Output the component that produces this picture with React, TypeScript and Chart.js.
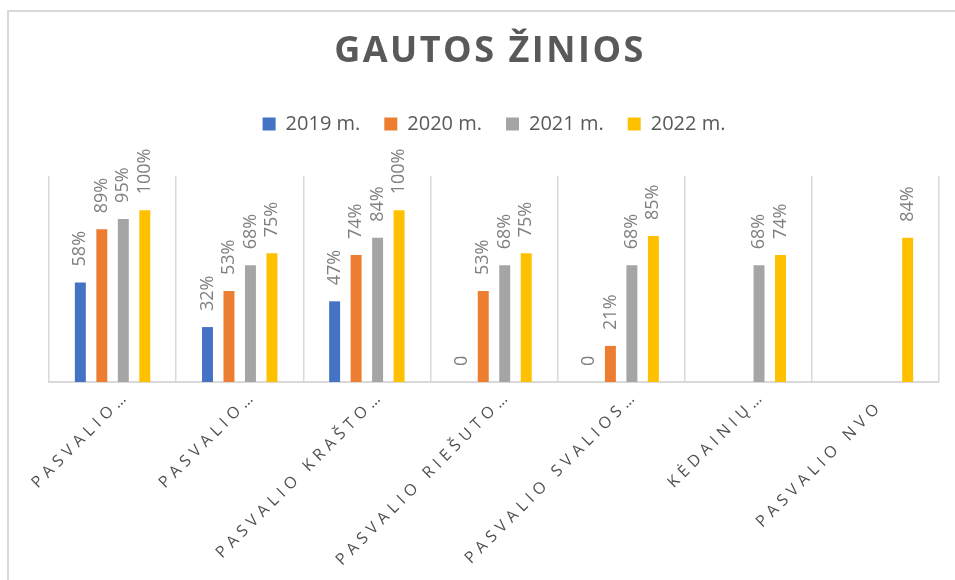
import React, { useEffect, useRef } from "react";
import { Chart, registerables, layouts } from "chart.js";

Chart.register(...registerables);

// ---- data ----
const TITLE = "GAUTOS ŽINIOS";
const categories = [
  "PASVALIO…",
  "PASVALIO…",
  "PASVALIO KRAŠTO…",
  "PASVALIO RIEŠUTO…",
  "PASVALIO SVALIOS…",
  "KĖDAINIŲ…",
  "PASVALIO NVO",
];
const seriesNames = ["2019 m.", "2020 m.", "2021 m.", "2022 m."];
const v2019 = [58, 32, 47, 0, 0, null, null];
const v2020 = [89, 53, 74, 53, 21, null, null];
const v2021 = [95, 68, 84, 68, 68, 68, null];
const v2022 = [100, 75, 100, 75, 85, 74, 84];
const seriesColors = ["#4472C4", "#ED7D31", "#A5A5A5", "#FFC000"];
const Y_MAX = 120;

const FONT = '"Open Sans", "DejaVu Sans", sans-serif';
const TEXT_DARK = "#595959";
const TEXT_LABEL = "#7f7f7f";
const GRID = "#d9d9d9";

function makeBox(height: number, weight: number, drawFn: (box: any, chart: any) => void, chart: any) {
  const box: any = {
    position: "top",
    weight,
    fullSize: true,
    options: {},
    left: 0,
    top: 0,
    right: 0,
    bottom: 0,
    width: 0,
    height: 0,
    isHorizontal: () => true,
    update(maxWidth: number) {
      box.width = maxWidth;
      box.height = height;
    },
    draw() {
      drawFn(box, chart);
    },
  };
  return box;
}

const boxesPlugin = {
  id: "customBoxes",
  beforeInit(chart: any) {
    const titleBox = makeBox(90, 2000, (box, ch) => {
      const ctx = ch.ctx;
      ctx.save();
      ctx.font = `bold 36px ${FONT}`;
      ctx.fillStyle = TEXT_DARK;
      (ctx as any).letterSpacing = "2.5px";
      ctx.textAlign = "center";
      ctx.textBaseline = "middle";
      ctx.fillText(TITLE, 490, box.top + 52);
      ctx.restore();
    }, chart);
    const spacer = makeBox(32, -10, () => {}, chart);
    layouts.addBox(chart, titleBox);
    layouts.addBox(chart, spacer);
  },
};

const valueLabelsPlugin = {
  id: "valueLabels",
  afterDatasetsDraw(chart: any) {
    const ctx = chart.ctx;
    ctx.save();
    ctx.font = `18px ${FONT}`;
    ctx.fillStyle = TEXT_LABEL;
    ctx.textAlign = "left";
    ctx.textBaseline = "middle";
    chart.data.datasets.forEach((ds: any, di: number) => {
      const meta = chart.getDatasetMeta(di);
      meta.data.forEach((bar: any, i: number) => {
        const v = ds.data[i];
        if (v === null || v === undefined) return;
        ctx.save();
        ctx.translate(bar.x, bar.y - 16);
        ctx.rotate(-Math.PI / 2);
        ctx.fillText(v === 0 ? "0" : `${v}%`, 0, 0);
        ctx.restore();
      });
    });
    ctx.restore();
  },
};

const xLabelsPlugin = {
  id: "xLabels",
  afterDraw(chart: any) {
    const ctx = chart.ctx;
    const xs = chart.scales.x;
    const bottom = chart.chartArea.bottom;
    ctx.save();
    ctx.font = `16px ${FONT}`;
    (ctx as any).letterSpacing = "5px";
    ctx.fillStyle = "#505050";
    ctx.textAlign = "right";
    ctx.textBaseline = "middle";
    categories.forEach((c, i) => {
      const px = xs.getPixelForValue(i);
      const truncated = c.endsWith("…");
      const dx = truncated ? 14.5 : 4.9;
      const dy = truncated ? 11.1 : 21.5;
      ctx.save();
      ctx.translate(px + dx, bottom + dy);
      ctx.rotate(-Math.PI / 4);
      ctx.fillText(c, 0, 0);
      ctx.restore();
    });
    ctx.restore();
  },
};

export default function App() {
  const ref = useRef<HTMLCanvasElement>(null);
  useEffect(() => {
    const allValues = [v2019, v2020, v2021, v2022];
    const chart = new Chart(ref.current as HTMLCanvasElement, {
      type: "bar",
      data: {
        labels: categories,
        datasets: seriesNames.map((name, i) => ({
          label: name,
          data: allValues[i] as any,
          backgroundColor: seriesColors[i],
          borderWidth: 0,
          categoryPercentage: 0.676,
          barPercentage: 0.51,
        })),
      },
      options: {
        responsive: false,
        animation: false,
        devicePixelRatio: 1,
        layout: { padding: { left: 49, right: 16, top: 0, bottom: 0 } },
        plugins: {
          title: { display: false },
          tooltip: { enabled: false },
          legend: {
            display: true,
            position: "top",
            labels: {
              boxWidth: 13,
              boxHeight: 13,
              padding: 24,
              color: TEXT_DARK,
              font: { family: FONT, size: 20 },
            },
          },
        },
        scales: {
          x: {
            ticks: { display: false },
            grid: { display: true, color: GRID, lineWidth: 1.5, drawTicks: false, offset: true },
            border: { display: true, color: GRID, width: 2 },
            afterFit: (s: any) => {
              s.height = 198;
            },
          },
          y: {
            display: false,
            min: 0,
            max: Y_MAX,
          },
        },
      } as any,
      plugins: [boxesPlugin, valueLabelsPlugin, xLabelsPlugin],
    });
    return () => chart.destroy();
  }, []);

  return (
    <div
      style={{
        position: "absolute",
        left: 0,
        top: 0,
        width: 955,
        height: 580,
        overflow: "hidden",
        background: "#ffffff",
      }}
    >
      <div
        style={{
          position: "absolute",
          left: 7,
          top: 10,
          width: 1000,
          height: 700,
          borderLeft: "2px solid #d9d9d9",
          borderTop: "2px solid #d9d9d9",
        }}
      />
      <canvas ref={ref} width={955} height={580} style={{ position: "absolute", left: 0, top: 0 }} />
    </div>
  );
}
